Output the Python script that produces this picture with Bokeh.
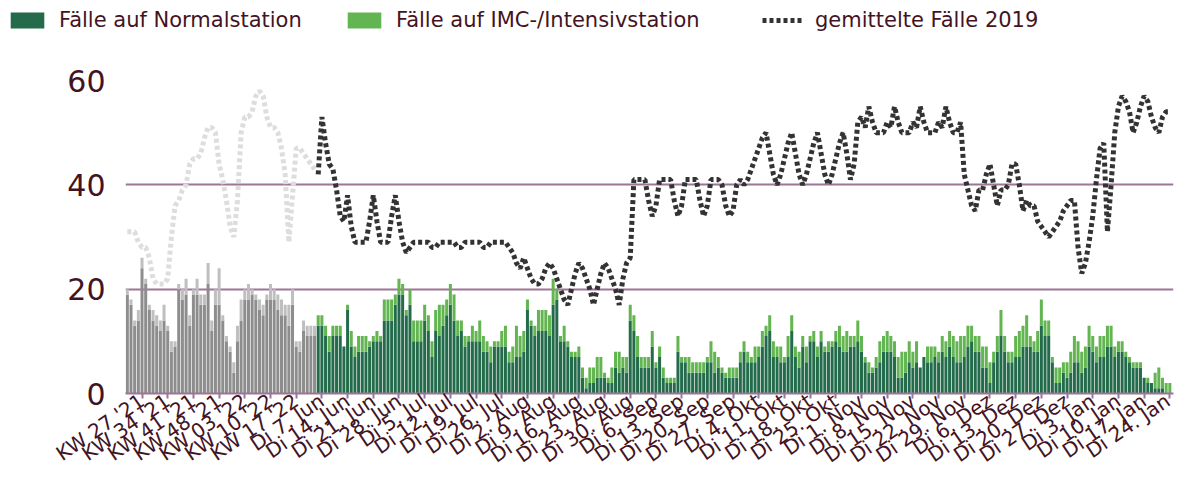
import datetime as dt
from bokeh.plotting import figure
from bokeh.layouts import column
from bokeh.models import ColumnDataSource, Range1d, FixedTicker, Legend, LegendItem
from bokeh.embed import file_html
from bokeh.resources import INLINE

# ---------------- data ----------------
# weekly values KW 23 '21 .. KW 22 '22
normal_weekly = [19, 17, 13, 14, 24, 21, 16, 14, 13, 12, 14, 12, 8, 9, 20, 18, 19, 13, 19, 19,
                 17, 17, 21, 12, 17, 17, 14, 10, 8, 4, 10, 14, 18, 18, 19, 18, 16, 15, 18, 18,
                 18, 16, 15, 15, 13, 17, 9, 8, 12, 11, 11, 11]
imc_weekly = [1, 1, 1, 2, 2, 1, 1, 2, 2, 2, 3, 1, 2, 1, 1, 2, 3, 2, 1, 3,
              2, 2, 4, 2, 3, 7, 1, 1, 1, 2, 3, 4, 2, 3, 1, 1, 2, 2, 1, 3,
              2, 3, 3, 2, 4, 3, 1, 2, 2, 2, 2, 2]
avg2019_weekly = [31, 31, 31, 29, 28, 28, 26, 22, 21, 21, 21, 22, 30, 36, 37, 39, 40, 44, 45, 45,
                  46, 49, 51, 51, 50, 44, 41, 37, 32, 30, 37, 50, 53, 53, 54, 57, 58, 57, 53, 51,
                  51, 50, 47, 42, 29, 38, 47, 47, 46, 45, 44, 43]

# daily values Mo 6. Jun 2022 .. Di 24. Jan 2023
normal_daily = [13, 13, 11, 8, 11, 11, 11, 9, 16, 9,
                7, 8, 8, 8, 9, 10, 10, 10, 14, 14,
                14, 17, 19, 19, 15, 17, 10, 10, 10, 14,
                12, 7, 12, 11, 13, 15, 17, 14, 11, 12,
                9, 10, 10, 10, 10, 8, 8, 6, 9, 9,
                9, 9, 6, 6, 7, 7, 8, 16, 13, 11,
                12, 12, 12, 11, 17, 18, 10, 10, 9, 7,
                7, 7, 3, 1, 2, 2, 3, 3, 3, 2,
                2, 5, 4, 5, 4, 14, 12, 7, 5, 5,
                5, 9, 5, 7, 3, 2, 2, 2, 8, 6,
                6, 4, 4, 4, 4, 4, 6, 6, 4, 5,
                4, 3, 3, 3, 3, 6, 8, 6, 6, 6,
                7, 9, 11, 12, 7, 7, 6, 6, 7, 12,
                7, 5, 9, 6, 10, 10, 7, 10, 8, 8,
                9, 10, 9, 8, 8, 9, 9, 10, 8, 6,
                4, 4, 5, 6, 8, 8, 8, 7, 3, 3,
                4, 6, 5, 6, 5, 7, 6, 6, 7, 6,
                8, 7, 9, 7, 6, 6, 7, 9, 10, 8,
                8, 5, 5, 2, 6, 8, 11, 8, 6, 6,
                7, 7, 9, 9, 9, 8, 8, 13, 11, 11,
                6, 2, 2, 4, 3, 4, 6, 6, 4, 5,
                9, 8, 6, 7, 7, 9, 9, 7, 8, 8,
                7, 6, 5, 5, 5, 3, 2, 2, 1, 1,
                1, 0, 0]
imc_daily = [2, 2, 2, 3, 2, 2, 2, 0, 1, 3,
             2, 3, 3, 3, 1, 1, 2, 1, 4, 4,
             4, 2, 3, 2, 1, 3, 4, 4, 4, 3,
             3, 3, 4, 6, 4, 3, 4, 5, 3, 2,
             2, 1, 3, 2, 4, 3, 2, 3, 1, 1,
             3, 4, 2, 3, 6, 4, 4, 2, 1, 2,
             4, 4, 4, 4, 5, 2, 1, 3, 1, 1,
             1, 2, 2, 2, 3, 3, 4, 4, 1, 1,
             3, 3, 4, 2, 3, 3, 3, 4, 2, 2,
             2, 3, 1, 2, 2, 1, 1, 1, 3, 1,
             1, 3, 2, 2, 2, 2, 1, 4, 4, 2,
             1, 1, 2, 2, 2, 2, 2, 2, 1, 3,
             2, 3, 2, 3, 3, 2, 3, 1, 4, 3,
             2, 3, 2, 3, 1, 2, 2, 2, 1, 2,
             1, 2, 4, 3, 4, 2, 2, 4, 3, 1,
             2, 1, 2, 4, 3, 4, 3, 3, 4, 5,
             4, 4, 3, 4, 0, 0, 3, 3, 2, 2,
             3, 3, 3, 4, 4, 5, 4, 4, 3, 3,
             3, 4, 4, 4, 2, 3, 5, 3, 2, 2,
             4, 5, 4, 6, 2, 2, 4, 5, 3, 3,
             1, 3, 3, 2, 3, 4, 5, 4, 4, 4,
             4, 3, 3, 4, 4, 4, 4, 2, 2, 2,
             1, 1, 1, 1, 1, 0, 1, 0, 3, 4,
             2, 2, 2]
avg2019_daily = [42, 53, 48, 44, 43, 39, 34, 33, 38,
                 32, 29, 29, 29, 29, 33, 38, 33, 29, 29,
                 29, 34, 38, 33, 29, 27, 28, 29, 29, 29,
                 29, 29, 28, 28, 29, 29, 29, 29, 29, 28,
                 28, 29, 29, 29, 29, 29, 28, 28, 29, 29,
                 29, 29, 29, 28, 27, 25, 24, 26, 24, 22,
                 21, 21, 22, 24, 25, 24, 22, 20, 18, 17,
                 20, 23, 25, 24, 22, 20, 17, 20, 23, 25,
                 24, 22, 20, 17, 22, 25, 26, 41, 41, 41,
                 41, 37, 34, 36, 41, 41, 41, 41, 37, 34,
                 36, 41, 41, 41, 41, 37, 34, 36, 41, 41,
                 41, 40, 36, 34, 35, 40, 41, 40, 41, 43,
                 45, 47, 49, 50, 46, 42, 40, 42, 45, 48,
                 50, 46, 42, 40, 42, 45, 48, 50, 46, 42,
                 40, 42, 45, 48, 50, 46, 41, 44, 52, 53,
                 51, 55, 52, 50, 50, 50, 52, 51, 55, 52,
                 50, 50, 50, 52, 51, 55, 52, 50, 50, 50,
                 52, 51, 55, 52, 50, 50, 52, 42, 39, 36,
                 35, 39, 39, 42, 44, 40, 36, 39, 39, 40,
                 44, 44, 40, 35, 37, 36, 36, 33, 32, 31,
                 30, 31, 32, 33, 35, 36, 37, 37, 28, 23,
                 25, 29, 34, 41, 47, 48, 31, 40, 50, 55,
                 57, 56, 54, 50, 52, 55, 57, 56, 53, 51,
                 50, 53, 54, 54]

tick_labels = ["KW 27 '21", "KW 34 '21", "KW 41 '21", "KW 48 '21", "KW 03 '22", "KW 10 '22",
               "KW 17 '22", "Di 7. Jun", "Di 14. Jun", "Di 21. Jun", "Di 28. Jun", "Di 5. Jul",
               "Di 12. Jul", "Di 19. Jul", "Di 26. Jul", "Di 2. Aug", "Di 9. Aug", "Di 16. Aug",
               "Di 23. Aug", "Di 30. Aug", "Di 6. Sep", "Di 13. Sep", "Di 20. Sep", "Di 27. Sep",
               "Di 4. Okt", "Di 11. Okt", "Di 18. Okt", "Di 25. Okt", "Di 1. Nov", "Di 8. Nov",
               "Di 15. Nov", "Di 22. Nov", "Di 29. Nov", "Di 6. Dez", "Di 13. Dez", "Di 20. Dez",
               "Di 27. Dez", "Di 3. Jan", "Di 10. Jan", "Di 17. Jan", "Di 24. Jan"]

legend_labels = ["Fälle auf Normalstation", "Fälle auf IMC-/Intensivstation", "gemittelte Fälle 2019"]

# category label of every bar
months = ["Jan", "Feb", "Mär", "Apr", "Mai", "Jun", "Jul", "Aug", "Sep", "Okt", "Nov", "Dez"]
wdays = ["Mo", "Di", "Mi", "Do", "Fr", "Sa", "So"]
week_cats = [f"KW {w:02d} '21" for w in range(23, 53)] + [f"KW {w:02d} '22" for w in range(1, 23)]
first_day = dt.date(2022, 6, 6)
day_cats = []
for k in range(len(normal_daily)):
    d = first_day + dt.timedelta(days=k)
    day_cats.append(f"{wdays[d.weekday()]} {d.day}. {months[d.month - 1]}")
all_cats = week_cats + day_cats

# ---------------- style ----------------
GREEN_DARK = "#236b4b"
GREEN_LIGHT = "#62b550"
GRAY_DARK = "#8d8d8d"
GRAY_LIGHT = "#bfbfbf"
LINE_DARK = "#333333"
LINE_LIGHT = "#dddddd"
MAUVE = "#9d7596"
TEXT = "#43141f"
FONT = "DejaVu Sans"
W = 1174
LEG_H = 40

n_w = len(normal_weekly)
n_d = len(normal_daily)
src_w = ColumnDataSource(dict(x=list(range(n_w)), normal=normal_weekly, imc=imc_weekly, avg=avg2019_weekly))
src_d = ColumnDataSource(dict(x=list(range(n_w, n_w + n_d)), normal=normal_daily, imc=imc_daily,
                              avg=avg2019_daily))

# ---------------- main chart ----------------
p = figure(width=W, height=480 - LEG_H,
           x_range=Range1d(-0.5, len(all_cats)), y_range=Range1d(0, 60),
           output_backend="svg", toolbar_location=None,
           min_border_left=125, min_border_right=1, min_border_top=80 - LEG_H, min_border_bottom=10)
p.outline_line_color = None
p.frame_align = False

p.vbar_stack(["normal", "imc"], x="x", width=0.82, source=src_w,
             color=[GRAY_DARK, GRAY_LIGHT], line_color=None)
p.vbar_stack(["normal", "imc"], x="x", width=0.82, source=src_d,
             color=[GREEN_DARK, GREEN_LIGHT], line_color=None)
p.line("x", "avg", source=src_w, line_color=LINE_LIGHT, line_width=5, line_dash="4 3")
p.line("x", "avg", source=src_d, line_color=LINE_DARK, line_width=5, line_dash="4 3")

tick_pos = [all_cats.index(t) for t in tick_labels]
p.xaxis.ticker = FixedTicker(ticks=tick_pos)
p.xaxis.major_label_overrides = {pos: lab for pos, lab in zip(tick_pos, tick_labels)}
p.xaxis.major_label_orientation = 0.6
p.xaxis.axis_line_color = MAUVE
p.xaxis.axis_line_width = 2
p.xaxis.major_tick_line_color = MAUVE
p.xaxis.major_tick_line_width = 2
p.xaxis.major_tick_out = 5
p.xaxis.major_tick_in = 0
p.xaxis.minor_tick_line_color = None
p.xaxis.major_label_text_font = FONT
p.xaxis.major_label_text_font_size = "20px"
p.xaxis.major_label_text_color = TEXT
p.xaxis.major_label_standoff = 0

p.yaxis.ticker = FixedTicker(ticks=[0, 20, 40, 60])
p.yaxis.axis_line_color = None
p.yaxis.major_tick_line_color = None
p.yaxis.major_tick_out = 0
p.yaxis.major_tick_in = 0
p.yaxis.minor_tick_line_color = None
p.yaxis.major_label_text_font = FONT
p.yaxis.major_label_text_font_size = "30px"
p.yaxis.major_label_text_color = TEXT
p.yaxis.major_label_standoff = 20

p.xgrid.visible = False
p.ygrid.ticker = FixedTicker(ticks=[20, 40, 60])
p.ygrid.grid_line_color = MAUVE
p.ygrid.grid_line_width = 2

# ---------------- legend strip ----------------
lf = figure(width=W, height=LEG_H, x_range=Range1d(0, 1), y_range=Range1d(0, 1),
            output_backend="svg", toolbar_location=None,
            x_axis_location=None, y_axis_location=None,
            min_border_left=0, min_border_right=0, min_border_top=0, min_border_bottom=0)
lf.outline_line_color = None
lf.frame_align = False
lf.grid.visible = False
# swatch renderers (their single point lies outside the visible range)
swatch = ColumnDataSource(dict(x=[-5, -4], y=[-5, -5]))
r1 = lf.vbar(x="x", top="y", width=0.5, source=swatch, fill_color=GREEN_DARK, line_color=None)
r2 = lf.vbar(x="x", top="y", width=0.5, source=swatch, fill_color=GREEN_LIGHT, line_color=None)
r3 = lf.line(x="x", y="y", source=swatch, line_color=LINE_DARK, line_width=5, line_dash="4 3")

item_x = [6, 343, 762]
for lab, r, x0 in zip(legend_labels, [r1, r2, r3], item_x):
    lg = Legend(items=[LegendItem(label=lab, renderers=[r])], orientation="horizontal",
                location=(x0, 8))
    lg.border_line_color = None
    lg.background_fill_alpha = 0
    lg.padding = 0
    lg.margin = 0
    lg.glyph_width = 42
    lg.glyph_height = 20
    lg.label_height = 20
    lg.label_standoff = 11
    lg.label_text_font = FONT
    lg.label_text_font_size = "21px"
    lg.label_text_color = TEXT
    lf.add_layout(lg)

layout = column(lf, p)
open("out.html", "w").write(file_html(layout, INLINE))
